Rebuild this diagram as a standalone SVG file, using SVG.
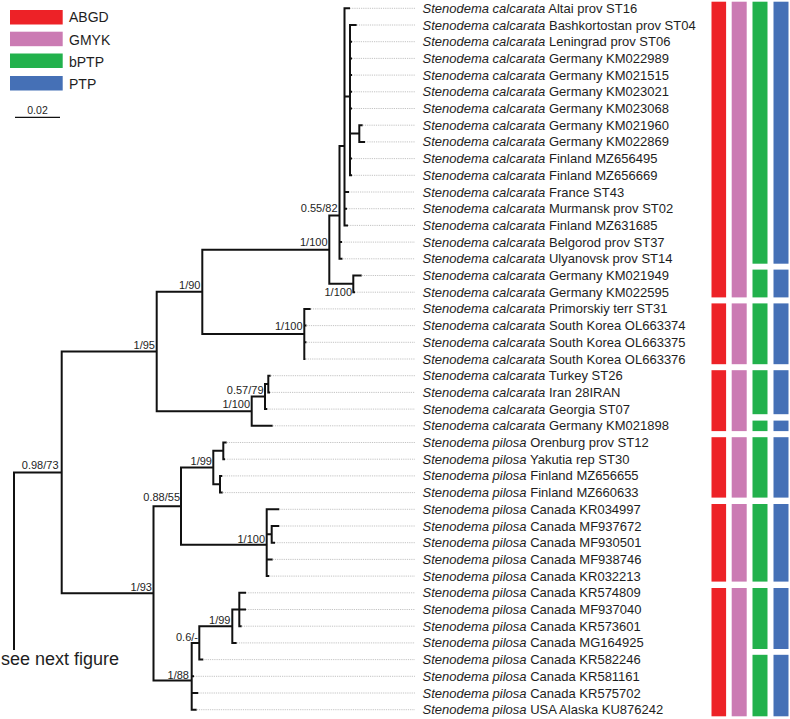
<svg xmlns="http://www.w3.org/2000/svg" width="790" height="719" viewBox="0 0 790 719">
<style>
text{font-family:"Liberation Sans",Arial,sans-serif;fill:#1e1e1e}
.lf{font-size:13px}
.lf tspan{font-style:italic}
.sp{font-size:11px;text-anchor:end}
.br{fill:none;stroke:#111;stroke-width:2;stroke-linejoin:miter}
.ld{fill:none;stroke:#b4b4b4;stroke-width:0.8;stroke-dasharray:1.2 1}
.r{fill:#ED2227}.p{fill:#CB7BB3}.g{fill:#22B14C}.b{fill:#4570B6}
</style>
<rect width="790" height="719" fill="#fff"/>
<g id="legend">
<rect class="r" x="10" y="10" width="52.7" height="14.5"/>
<rect class="p" x="10" y="31.7" width="52.7" height="14.5"/>
<rect class="g" x="10" y="53.5" width="52.7" height="14.5"/>
<rect class="b" x="10" y="76" width="52.7" height="14.5"/>
<text x="69" y="22.3" font-size="14">ABGD</text>
<text x="69" y="45" font-size="14">GMYK</text>
<text x="69" y="66.7" font-size="14">bPTP</text>
<text x="69" y="88.5" font-size="14">PTP</text>
</g>
<g id="scale">
<path d="M15 117.3H60" stroke="#111" stroke-width="1.3"/>
<text x="37.5" y="113.8" font-size="10.5" text-anchor="middle">0.02</text>
</g>
<g id="connectors">
<path class="br" d="M14 650V472.4H61.7"/>
<path class="br" d="M156.7 351.5H61.7V593.35H153.5"/>
<path class="br" d="M202.3 291.8H156.7V411.2H251.7"/>
<path class="br" d="M329.3 249.7H202.3V333.95H304.3"/>
<path class="br" d="M339.5 215.6H329.3V283.85H353.3"/>
<path class="br" d="M344.5 145.9H339.5V258.8H342.5M339.5 242.1H342"/>
<path class="br" d="M350 8.3H344.5V225.4H348M344.5 96.4H350M344.5 192H349M344.5 208.7H347"/>
<path class="br" d="M356.7 25H350V175.3H352M350 41.7H352M350 58.4H352M350 75.1H352M350 91.8H352M350 108.5H352M350 158.6H352M350 133.55H359.3"/>
<path class="br" d="M362.7 125.2H359.3V141.9H365"/>
<path class="br" d="M361.7 275.5H353.3V292.2H355"/>
<path class="br" d="M310.7 308.9H304.3V359H305.5M304.3 325.6H306.5M304.3 342.3H306.5"/>
<path class="br" d="M265 396.6H251.7V425.8H272.7"/>
<path class="br" d="M268.3 384.05H265V409.1H267.3"/>
<path class="br" d="M270.7 375.7H268.3V392.4H270"/>
<path class="br" d="M181 506.2H153.5V680.5H191.7"/>
<path class="br" d="M213.3 467.55H181V544.8H266.7"/>
<path class="br" d="M223.3 450.85H213.3V484.25H220"/>
<path class="br" d="M226.7 442.5H223.3V459.2H225"/>
<path class="br" d="M222.3 475.9H220V492.6H222.7"/>
<path class="br" d="M279.3 509.3H266.7V576.1H269.3M266.7 534.35H271.7M266.7 559.4H272.7"/>
<path class="br" d="M279.3 526H271.7V542.7H275"/>
<path class="br" d="M199.3 642.9H191.7V709.7H196.7M191.7 676.3H194M191.7 693H198.3"/>
<path class="br" d="M232.3 626.2H199.3V659.6H203.3"/>
<path class="br" d="M239.3 609.5H232.3V642.9H236.7"/>
<path class="br" d="M246 592.8H239.3V626.2H241.7M239.3 609.5H246"/>
</g>
<g id="support">
<text class="sp" x="58.5" y="469">0.98/73</text>
<text class="sp" x="155" y="348.5">1/95</text>
<text class="sp" x="200.5" y="288.5">1/90</text>
<text class="sp" x="327.5" y="246">1/100</text>
<text class="sp" x="337.5" y="212">0.55/82</text>
<text class="sp" x="352" y="296">1/100</text>
<text class="sp" x="302.5" y="330">1/100</text>
<text class="sp" x="263.5" y="394">0.57/79</text>
<text class="sp" x="250" y="407.5">1/100</text>
<text class="sp" x="212" y="464.5">1/99</text>
<text class="sp" x="180" y="501">0.88/55</text>
<text class="sp" x="265" y="542.5">1/100</text>
<text class="sp" x="152" y="591">1/93</text>
<text class="sp" x="230.5" y="624">1/99</text>
<text class="sp" x="198" y="640.5">0.6/-</text>
<text class="sp" x="189" y="679">1/88</text>
</g>
<text x="1" y="665" font-size="18">see next figure</text>
<g id="leaf-00"><path class="ld" d="M350 8.3H415"/><text class="lf" x="422.5" y="12.8"><tspan>Stenodema calcarata</tspan> Altai prov ST16</text></g>
<g id="leaf-01"><path class="ld" d="M356.7 25H415"/><text class="lf" x="422.5" y="29.5"><tspan>Stenodema calcarata</tspan> Bashkortostan prov ST04</text></g>
<g id="leaf-02"><path class="ld" d="M352 41.7H415"/><text class="lf" x="422.5" y="46.2"><tspan>Stenodema calcarata</tspan> Leningrad prov ST06</text></g>
<g id="leaf-03"><path class="ld" d="M352 58.4H415"/><text class="lf" x="422.5" y="62.9"><tspan>Stenodema calcarata</tspan> Germany KM022989</text></g>
<g id="leaf-04"><path class="ld" d="M352 75.1H415"/><text class="lf" x="422.5" y="79.6"><tspan>Stenodema calcarata</tspan> Germany KM021515</text></g>
<g id="leaf-05"><path class="ld" d="M352 91.8H415"/><text class="lf" x="422.5" y="96.3"><tspan>Stenodema calcarata</tspan> Germany KM023021</text></g>
<g id="leaf-06"><path class="ld" d="M352 108.5H415"/><text class="lf" x="422.5" y="113"><tspan>Stenodema calcarata</tspan> Germany KM023068</text></g>
<g id="leaf-07"><path class="ld" d="M362.7 125.2H415"/><text class="lf" x="422.5" y="129.7"><tspan>Stenodema calcarata</tspan> Germany KM021960</text></g>
<g id="leaf-08"><path class="ld" d="M365 141.9H415"/><text class="lf" x="422.5" y="146.4"><tspan>Stenodema calcarata</tspan> Germany KM022869</text></g>
<g id="leaf-09"><path class="ld" d="M352 158.6H415"/><text class="lf" x="422.5" y="163.1"><tspan>Stenodema calcarata</tspan> Finland MZ656495</text></g>
<g id="leaf-10"><path class="ld" d="M352 175.3H415"/><text class="lf" x="422.5" y="179.8"><tspan>Stenodema calcarata</tspan> Finland MZ656669</text></g>
<g id="leaf-11"><path class="ld" d="M349 192H415"/><text class="lf" x="422.5" y="196.5"><tspan>Stenodema calcarata</tspan> France ST43</text></g>
<g id="leaf-12"><path class="ld" d="M347 208.7H415"/><text class="lf" x="422.5" y="213.2"><tspan>Stenodema calcarata</tspan> Murmansk prov ST02</text></g>
<g id="leaf-13"><path class="ld" d="M348 225.4H415"/><text class="lf" x="422.5" y="229.9"><tspan>Stenodema calcarata</tspan> Finland MZ631685</text></g>
<g id="leaf-14"><path class="ld" d="M342 242.1H415"/><text class="lf" x="422.5" y="246.6"><tspan>Stenodema calcarata</tspan> Belgorod prov ST37</text></g>
<g id="leaf-15"><path class="ld" d="M342.5 258.8H415"/><text class="lf" x="422.5" y="263.3"><tspan>Stenodema calcarata</tspan> Ulyanovsk prov ST14</text></g>
<g id="leaf-16"><path class="ld" d="M361.7 275.5H415"/><text class="lf" x="422.5" y="280"><tspan>Stenodema calcarata</tspan> Germany KM021949</text></g>
<g id="leaf-17"><path class="ld" d="M355 292.2H415"/><text class="lf" x="422.5" y="296.7"><tspan>Stenodema calcarata</tspan> Germany KM022595</text></g>
<g id="leaf-18"><path class="ld" d="M310.7 308.9H415"/><text class="lf" x="422.5" y="313.4"><tspan>Stenodema calcarata</tspan> Primorskiy terr ST31</text></g>
<g id="leaf-19"><path class="ld" d="M306.5 325.6H415"/><text class="lf" x="422.5" y="330.1"><tspan>Stenodema calcarata</tspan> South Korea OL663374</text></g>
<g id="leaf-20"><path class="ld" d="M306.5 342.3H415"/><text class="lf" x="422.5" y="346.8"><tspan>Stenodema calcarata</tspan> South Korea OL663375</text></g>
<g id="leaf-21"><path class="ld" d="M305.5 359H415"/><text class="lf" x="422.5" y="363.5"><tspan>Stenodema calcarata</tspan> South Korea OL663376</text></g>
<g id="leaf-22"><path class="ld" d="M270.7 375.7H415"/><text class="lf" x="422.5" y="380.2"><tspan>Stenodema calcarata</tspan> Turkey ST26</text></g>
<g id="leaf-23"><path class="ld" d="M270 392.4H415"/><text class="lf" x="422.5" y="396.9"><tspan>Stenodema calcarata</tspan> Iran 28IRAN</text></g>
<g id="leaf-24"><path class="ld" d="M267.3 409.1H415"/><text class="lf" x="422.5" y="413.6"><tspan>Stenodema calcarata</tspan> Georgia ST07</text></g>
<g id="leaf-25"><path class="ld" d="M272.7 425.8H415"/><text class="lf" x="422.5" y="430.3"><tspan>Stenodema calcarata</tspan> Germany KM021898</text></g>
<g id="leaf-26"><path class="ld" d="M226.7 442.5H415"/><text class="lf" x="422.5" y="447"><tspan>Stenodema pilosa</tspan> Orenburg prov ST12</text></g>
<g id="leaf-27"><path class="ld" d="M225 459.2H415"/><text class="lf" x="422.5" y="463.7"><tspan>Stenodema pilosa</tspan> Yakutia rep ST30</text></g>
<g id="leaf-28"><path class="ld" d="M222.3 475.9H415"/><text class="lf" x="422.5" y="480.4"><tspan>Stenodema pilosa</tspan> Finland MZ656655</text></g>
<g id="leaf-29"><path class="ld" d="M222.7 492.6H415"/><text class="lf" x="422.5" y="497.1"><tspan>Stenodema pilosa</tspan> Finland MZ660633</text></g>
<g id="leaf-30"><path class="ld" d="M279.3 509.3H415"/><text class="lf" x="422.5" y="513.8"><tspan>Stenodema pilosa</tspan> Canada KR034997</text></g>
<g id="leaf-31"><path class="ld" d="M279.3 526H415"/><text class="lf" x="422.5" y="530.5"><tspan>Stenodema pilosa</tspan> Canada MF937672</text></g>
<g id="leaf-32"><path class="ld" d="M275 542.7H415"/><text class="lf" x="422.5" y="547.2"><tspan>Stenodema pilosa</tspan> Canada MF930501</text></g>
<g id="leaf-33"><path class="ld" d="M272.7 559.4H415"/><text class="lf" x="422.5" y="563.9"><tspan>Stenodema pilosa</tspan> Canada MF938746</text></g>
<g id="leaf-34"><path class="ld" d="M269.3 576.1H415"/><text class="lf" x="422.5" y="580.6"><tspan>Stenodema pilosa</tspan> Canada KR032213</text></g>
<g id="leaf-35"><path class="ld" d="M246 592.8H415"/><text class="lf" x="422.5" y="597.3"><tspan>Stenodema pilosa</tspan> Canada KR574809</text></g>
<g id="leaf-36"><path class="ld" d="M246 609.5H415"/><text class="lf" x="422.5" y="614"><tspan>Stenodema pilosa</tspan> Canada MF937040</text></g>
<g id="leaf-37"><path class="ld" d="M241.7 626.2H415"/><text class="lf" x="422.5" y="630.7"><tspan>Stenodema pilosa</tspan> Canada KR573601</text></g>
<g id="leaf-38"><path class="ld" d="M236.7 642.9H415"/><text class="lf" x="422.5" y="647.4"><tspan>Stenodema pilosa</tspan> Canada MG164925</text></g>
<g id="leaf-39"><path class="ld" d="M203.3 659.6H415"/><text class="lf" x="422.5" y="664.1"><tspan>Stenodema pilosa</tspan> Canada KR582246</text></g>
<g id="leaf-40"><path class="ld" d="M194 676.3H415"/><text class="lf" x="422.5" y="680.8"><tspan>Stenodema pilosa</tspan> Canada KR581161</text></g>
<g id="leaf-41"><path class="ld" d="M198.3 693H415"/><text class="lf" x="422.5" y="697.5"><tspan>Stenodema pilosa</tspan> Canada KR575702</text></g>
<g id="leaf-42"><path class="ld" d="M196.7 709.7H415"/><text class="lf" x="422.5" y="714.2"><tspan>Stenodema pilosa</tspan> USA Alaska KU876242</text></g>
<g id="bars">
<rect class="r" x="711.5" y="1.7" width="14.6" height="295.7"/>
<rect class="p" x="731.7" y="1.7" width="15" height="295.7"/>
<rect class="g" x="752.5" y="1.7" width="15" height="262"/>
<rect class="b" x="773.5" y="1.7" width="15" height="262"/>
<rect class="g" x="752.5" y="269.6" width="15" height="27.8"/>
<rect class="b" x="773.5" y="269.6" width="15" height="27.8"/>
<rect class="r" x="711.5" y="303.4" width="14.6" height="60.8"/>
<rect class="p" x="731.7" y="303.4" width="15" height="60.8"/>
<rect class="g" x="752.5" y="303.4" width="15" height="60.8"/>
<rect class="b" x="773.5" y="303.4" width="15" height="60.8"/>
<rect class="r" x="711.5" y="370.2" width="14.6" height="60.9"/>
<rect class="p" x="731.7" y="370.2" width="15" height="60.9"/>
<rect class="g" x="752.5" y="370.2" width="15" height="44"/>
<rect class="b" x="773.5" y="370.2" width="15" height="44"/>
<rect class="g" x="752.5" y="420.6" width="15" height="10.5"/>
<rect class="b" x="773.5" y="420.6" width="15" height="10.5"/>
<rect class="r" x="711.5" y="437.2" width="14.6" height="60.4"/>
<rect class="p" x="731.7" y="437.2" width="15" height="60.4"/>
<rect class="g" x="752.5" y="437.2" width="15" height="60.4"/>
<rect class="b" x="773.5" y="437.2" width="15" height="60.4"/>
<rect class="r" x="711.5" y="504" width="14.6" height="77.6"/>
<rect class="p" x="731.7" y="504" width="15" height="77.6"/>
<rect class="g" x="752.5" y="504" width="15" height="77.6"/>
<rect class="b" x="773.5" y="504" width="15" height="77.6"/>
<rect class="r" x="711.5" y="588" width="14.6" height="128.3"/>
<rect class="p" x="731.7" y="588" width="15" height="128.3"/>
<rect class="g" x="752.5" y="588" width="15" height="61"/>
<rect class="b" x="773.5" y="588" width="15" height="61"/>
<rect class="g" x="752.5" y="654.8" width="15" height="61.5"/>
<rect class="b" x="773.5" y="654.8" width="15" height="61.5"/>
</g>
</svg>
